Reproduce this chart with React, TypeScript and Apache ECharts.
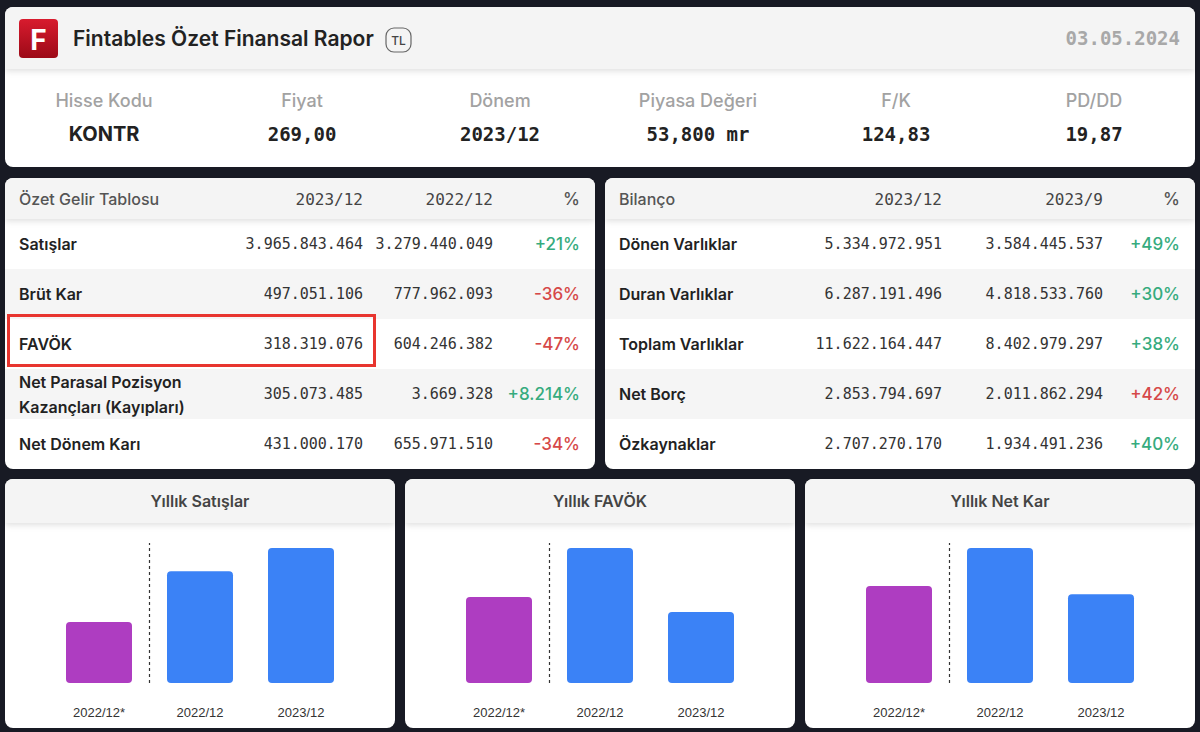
import React, { useEffect, useRef } from "react";
import * as echarts from "echarts";

// ---------- data ----------
const reportTitle = "Fintables Özet Finansal Rapor";
const currencyBadge = "TL";
const reportDate = "03.05.2024";

const statLabels = ["Hisse Kodu", "Fiyat", "Dönem", "Piyasa Değeri", "F/K", "PD/DD"];
const statValues = ["KONTR", "269,00", "2023/12", "53,800 mr", "124,83", "19,87"];

const incomeHeader = ["Özet Gelir Tablosu", "2023/12", "2022/12", "%"];
const incomeLabels = ["Satışlar", "Brüt Kar", "FAVÖK", "Net Parasal Pozisyon\nKazançları (Kayıpları)", "Net Dönem Karı"];
const incomeCurrent = ["3.965.843.464", "497.051.106", "318.319.076", "305.073.485", "431.000.170"];
const incomePrevious = ["3.279.440.049", "777.962.093", "604.246.382", "3.669.328", "655.971.510"];
const incomeChange = ["+21%", "-36%", "-47%", "+8.214%", "-34%"];
const incomeGood = [true, false, false, true, false];

const balanceHeader = ["Bilanço", "2023/12", "2023/9", "%"];
const balanceLabels = ["Dönen Varlıklar", "Duran Varlıklar", "Toplam Varlıklar", "Net Borç", "Özkaynaklar"];
const balanceCurrent = ["5.334.972.951", "6.287.191.496", "11.622.164.447", "2.853.794.697", "2.707.270.170"];
const balancePrevious = ["3.584.445.537", "4.818.533.760", "8.402.979.297", "2.011.862.294", "1.934.491.236"];
const balanceChange = ["+49%", "+30%", "+38%", "+42%", "+40%"];
const balanceGood = [true, true, true, false, true];

const chartTitles = ["Yıllık Satışlar", "Yıllık FAVÖK", "Yıllık Net Kar"];
const chartCategories = ["2022/12*", "2022/12", "2023/12"];
const salesValues = [1790000000, 3279440049, 3965843464];
const favokValues = [385000000, 604246382, 318319076];
const netKarValues = [471000000, 655971510, 431000170];
// the dashed divider sits between the first and second category
const dividerPosition = 0.5;

// ---------- styles ----------
const BG = "#181a24";
const SANS = 'Inter, "Noto Sans", sans-serif';
const MONO = '"DejaVu Sans Mono", monospace';
const BAND = "#f4f4f4";
const STRIPE = "#f5f5f5";
const GREEN = "#36ab7e";
const RED = "#d64848";
const PURPLE = "#ae3dc1";
const BLUE = "#3b82f6";

function txt(x: number, y: number, text: string, o: any = {}) {
  return {
    type: "text",
    x,
    y,
    z2: 20,
    style: {
      text,
      fill: o.fill || "#222",
      fontSize: o.size || 16,
      fontFamily: o.family || SANS,
      fontWeight: o.weight || "normal",
      align: o.align || "left",
      verticalAlign: "middle",
      lineHeight: o.lineHeight,
    },
  };
}

function card(x: number, y: number, w: number, h: number, bandH: number) {
  return [
    { type: "rect", z2: 1, shape: { x, y, width: w, height: h, r: 8 }, style: { fill: "#ffffff" } },
    {
      type: "rect",
      z2: 3,
      shape: { x, y, width: w, height: bandH, r: [8, 8, 0, 0] },
      style: { fill: BAND, shadowBlur: 6, shadowOffsetY: 2, shadowColor: "rgba(0,0,0,0.13)" },
    },
  ];
}

function tableElements(
  x0: number,
  header: string[],
  labels: string[],
  cur: string[],
  prev: string[],
  chg: string[],
  good: boolean[],
  cols: number[]
) {
  const els: any[] = [];
  const top = 178;
  const headH = 41;
  const rowH = 50;
  els.push(...card(x0, top, 590, 291, headH));
  labels.forEach((_, i) => {
    if (i % 2 === 1) {
      els.push({
        type: "rect",
        z2: 2,
        shape: { x: x0, y: top + headH + i * rowH, width: 590, height: rowH },
        style: { fill: STRIPE },
      });
    }
  });
  const hy = top + 21;
  els.push(txt(x0 + 14, hy, header[0], { size: 16, fill: "#555", weight: 500 }));
  els.push(txt(cols[0], hy, header[1], { size: 16, fill: "#444", family: MONO, align: "right" }));
  els.push(txt(cols[1], hy, header[2], { size: 16, fill: "#444", family: MONO, align: "right" }));
  els.push(txt(cols[2], hy, header[3], { size: 17, fill: "#555", weight: 500, align: "right" }));
  labels.forEach((lab, i) => {
    const cy = top + headH + i * rowH + 25;
    els.push(txt(x0 + 14, cy, lab, { size: 16, weight: 600, fill: "#222", lineHeight: 25 }));
    els.push(txt(cols[0], cy, cur[i], { size: 15, family: MONO, fill: "#333", align: "right" }));
    els.push(txt(cols[1], cy, prev[i], { size: 15, family: MONO, fill: "#333", align: "right" }));
    els.push(
      txt(cols[2], cy, chg[i], { size: 17, weight: 500, fill: good[i] ? GREEN : RED, align: "right" })
    );
  });
  return els;
}

export default function App() {
  const ref = useRef<HTMLDivElement>(null);

  useEffect(() => {
    if (!ref.current) return;
    const chart = echarts.init(ref.current, null, { renderer: "svg" });

    const els: any[] = [];

    // Header card
    els.push(...card(5, 7, 1190, 160, 62));
    els.push({
      type: "rect",
      z2: 10,
      shape: { x: 19, y: 19, width: 39, height: 39, r: 4 },
      style: {
        fill: new echarts.graphic.LinearGradient(0, 0, 0, 1, [
          { offset: 0, color: "#d81b2e" },
          { offset: 1, color: "#9c0a17" },
        ]),
      },
    });
    els.push(txt(38.5, 39.5, "F", { size: 28, weight: 700, fill: "#ffffff", align: "center" }));
    els.push(txt(73, 38, reportTitle, { size: 21, weight: 600, fill: "#222" }));
    els.push({
      type: "rect",
      z2: 10,
      shape: { x: 386, y: 28, width: 25, height: 24, r: 8 },
      style: { fill: "none", stroke: "#666", lineWidth: 1.2 },
    });
    els.push(txt(398.5, 40.5, currencyBadge, { size: 12, fill: "#444", weight: 500, align: "center" }));
    els.push(txt(1180, 38, reportDate, { size: 19, weight: 700, family: MONO, fill: "#a8a8a8", align: "right" }));

    statLabels.forEach((lab, i) => {
      const cx = 5 + 198 * (i + 0.5);
      els.push(txt(cx, 100, lab, { size: 18, fill: "#a2a2a2", weight: 500, align: "center" }));
      els.push(
        txt(cx, 134, statValues[i], {
          size: i === 0 ? 20 : 19,
          weight: 700,
          family: i === 0 ? SANS : MONO,
          fill: "#222",
          align: "center",
        })
      );
    });

    // Tables
    els.push(
      ...tableElements(5, incomeHeader, incomeLabels, incomeCurrent, incomePrevious, incomeChange, incomeGood, [363, 493, 580])
    );
    els.push(
      ...tableElements(605, balanceHeader, balanceLabels, balanceCurrent, balancePrevious, balanceChange, balanceGood, [942, 1103, 1180])
    );
    els.push({
      type: "rect",
      z2: 30,
      shape: { x: 8.5, y: 315.5, width: 366, height: 50 },
      style: { fill: "none", stroke: "#e8352f", lineWidth: 3 },
    });

    // Bottom chart cards
    chartTitles.forEach((t, i) => {
      const x = 5 + 400 * i;
      els.push(...card(x, 479, 390, 249, 44));
      els.push(txt(x + 195, 501, t, { size: 16, weight: 600, fill: "#444", align: "center" }));
    });

    const seriesValues = [salesValues, favokValues, netKarValues];
    const n = seriesValues.length;

    const xAxes: any[] = [];
    seriesValues.forEach((_, i) => {
      xAxes.push({
        type: "category",
        gridIndex: i,
        data: chartCategories,
        z: 5,
        axisLine: { show: false },
        axisTick: { show: false },
        axisLabel: { margin: 23, fontSize: 13, color: "#333", fontFamily: '"Liberation Sans", Arial, sans-serif' },
        splitLine: { show: false },
      });
    });
    // hidden value axes (same band layout) used for the divider line
    seriesValues.forEach((_, i) => {
      xAxes.push({
        type: "value",
        gridIndex: i,
        min: -0.5,
        max: chartCategories.length - 0.5,
        show: false,
      });
    });

    const series: any[] = seriesValues.map((vals, i) => ({
      type: "bar",
      xAxisIndex: i,
      yAxisIndex: i,
      barWidth: 66,
      z: 6,
      itemStyle: { borderRadius: 4 },
      data: vals.map((v, j) => ({ value: v, itemStyle: { color: j === 0 ? PURPLE : BLUE, borderRadius: 4 } })),
    }));
    seriesValues.forEach((_, i) => {
      series.push({
        type: "line",
        xAxisIndex: n + i,
        yAxisIndex: i,
        data: [],
        silent: true,
        z: 7,
        markLine: {
          silent: true,
          symbol: ["none", "none"],
          label: { show: false },
          lineStyle: { type: [3, 3], color: "#333", width: 1.2 },
          data: [{ xAxis: dividerPosition }],
        },
      });
    });

    const option: any = {
      animation: false,
      backgroundColor: BG,
      graphic: { elements: els },
      grid: seriesValues.map((_, i) => ({
        left: 48.5 + 400 * i,
        top: 543,
        width: 303,
        height: 140,
        containLabel: false,
      })),
      xAxis: xAxes,
      yAxis: seriesValues.map((_, i) => ({
        type: "value",
        gridIndex: i,
        min: 0,
        max: (v: any) => (v.max * 140) / 135,
        show: false,
        splitLine: { show: false },
      })),
      series,
    };

    chart.setOption(option);
    return () => chart.dispose();
  }, []);

  return <div ref={ref} style={{ position: "fixed", left: 0, top: 0, width: 1200, height: 732 }} />;
}
